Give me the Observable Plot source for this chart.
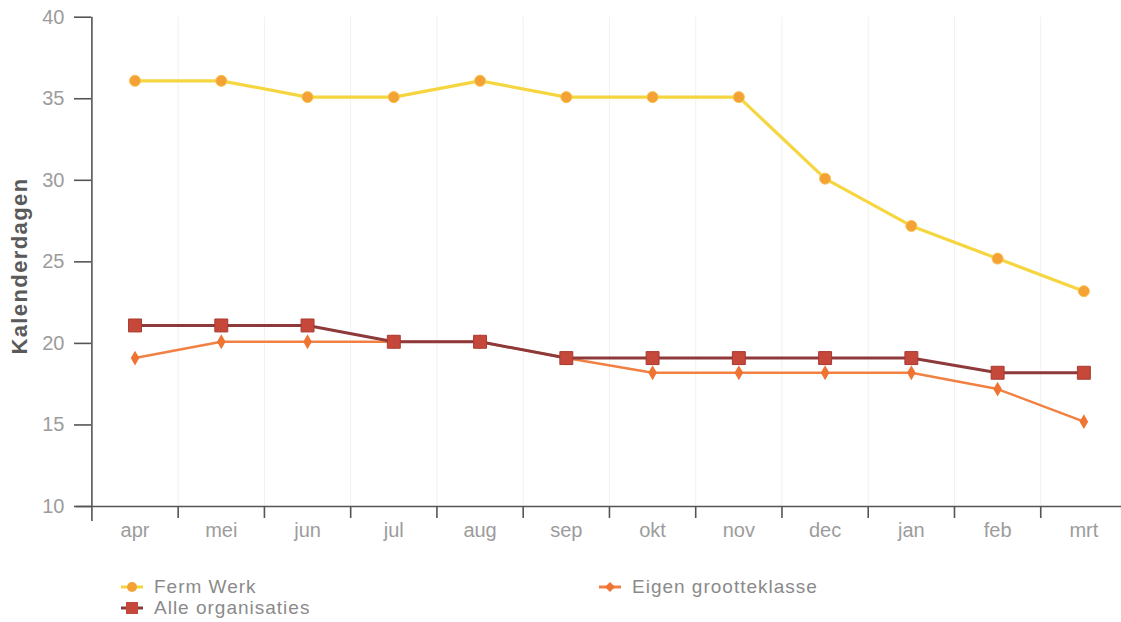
<!DOCTYPE html>
<html>
<head>
<meta charset="utf-8">
<script src="https://cdn.jsdelivr.net/npm/d3@7"></script>
<script src="https://cdn.jsdelivr.net/npm/@observablehq/plot@0.6"></script>
<style>
  body { margin: 0; background: #fff; font-family: "Liberation Sans", Arial, sans-serif; }
  #wrap { position: relative; width: 1121px; height: 622px; overflow: hidden; }
  #legend { position: absolute; left: 0; top: 0; width: 1121px; height: 622px; pointer-events: none; }
  .lg { position: absolute; display: flex; align-items: center; font-size: 19px; color: #8a8a8a; letter-spacing: 1px; }
  .lg svg { margin-right: 10px; }
  #ytitle { position: absolute; left: 19.5px; top: 266px; transform: translate(-50%, -50%) rotate(-90deg); white-space: nowrap;
            font-size: 22px; font-weight: bold; color: #5a5a5a; letter-spacing: 1.4px; }
</style>
</head>
<body>
<div id="wrap">
  <div id="chart"></div>
  <div id="ytitle"></div>
  <div id="legend"></div>
</div>
<script>
const months = ["apr", "mei", "jun", "jul", "aug", "sep", "okt", "nov", "dec", "jan", "feb", "mrt"];
const fermWerk = [36.1, 36.1, 35.1, 35.1, 36.1, 35.1, 35.1, 35.1, 30.1, 27.2, 25.2, 23.2];
const alleOrganisaties = [21.1, 21.1, 21.1, 20.1, 20.1, 19.1, 19.1, 19.1, 19.1, 19.1, 18.2, 18.2];
const eigenGrootteklasse = [19.1, 20.1, 20.1, 20.1, 20.1, 19.1, 18.2, 18.2, 18.2, 18.2, 17.2, 15.2];
const yTicks = [10, 15, 20, 25, 30, 35, 40];
const seriesNames = ["Ferm Werk", "Alle organisaties", "Eigen grootteklasse"];
const yTitle = "Kalenderdagen";

const idx = months.map((m, i) => i);
const bounds = months.slice(1).map((m, i) => i + 0.5);
const ferm = idx.map(i => ({i, v: fermWerk[i]}));
const alle = idx.map(i => ({i, v: alleOrganisaties[i]}));
const eigen = idx.map(i => ({i, v: eigenGrootteklasse[i]}));

const C = {
  fermLine: "#f6d640", fermDot: "#f4a236",
  alleLine: "#8e3a3a", alleDot: "#c5483a",
  eigenLine: "#f18042", eigenDot: "#ef7434"
};

const chart = Plot.plot({
  width: 1121,
  height: 570,
  marginLeft: 91,
  marginRight: 0,
  marginTop: 16,
  marginBottom: 64,
  style: { fontFamily: "Liberation Sans, Arial, sans-serif", background: "#fff" },
  x: { type: "linear", domain: [-0.5, 11.5], range: [91.4, 1126.5] },
  y: { type: "linear", domain: [10, 40], range: [506, 16.7] },
  marks: [
    Plot.ruleX(bounds, { stroke: "#f1f1f1", strokeWidth: 1, y1: 40, y2: 10 }),
    Plot.ruleY([10], { stroke: "#555", strokeWidth: 1.6, insetLeft: -15 }),
    Plot.ruleX([-0.5], { stroke: "#555", strokeWidth: 1.6, y1: 40, y2: 10, insetBottom: -15 }),
    Plot.axisY({ ticks: yTicks, tickSize: 17, tickPadding: 10, stroke: "#555", strokeWidth: 1.6, fill: "#9c9c9c", fontSize: 20, label: null, style: "letter-spacing:1px" }),
    Plot.axisX({ ticks: bounds, tickSize: 12, tickFormat: () => "", stroke: "#555", strokeWidth: 1.6, label: null }),
    Plot.axisX({ ticks: idx, tickSize: 0, tickPadding: 16, tickFormat: i => months[i], fill: "#9c9c9c", fontSize: 20, label: null, style: "letter-spacing:2px" }),
    Plot.line(ferm, { x: "i", y: "v", stroke: C.fermLine, strokeWidth: 3.2 }),
    Plot.dot(ferm, { x: "i", y: "v", r: 5.5, fill: C.fermDot, stroke: "#f7c04a", strokeWidth: 1 }),
    Plot.line(eigen, { x: "i", y: "v", stroke: C.eigenLine, strokeWidth: 2.5 }),
    Plot.dot(eigen, { x: "i", y: "v", symbol: "diamond", r: 4.5, fill: C.eigenDot }),
    Plot.line(alle, { x: "i", y: "v", stroke: C.alleLine, strokeWidth: 3 }),
    Plot.dot(alle, { x: "i", y: "v", symbol: "square", r: 7.3, fill: C.alleDot, stroke: "#a83a32", strokeWidth: 1 })
  ]
});
document.getElementById("chart").appendChild(chart);
document.getElementById("ytitle").textContent = yTitle;

const legendItems = [
  { name: seriesNames[0], line: C.fermLine, dot: C.fermDot, sym: "circle", left: 120, top: 576 },
  { name: seriesNames[2], line: C.eigenLine, dot: C.eigenDot, sym: "diamond", left: 598, top: 576 },
  { name: seriesNames[1], line: C.alleLine, dot: C.alleDot, sym: "square", left: 120, top: 597 }
];
const lg = document.getElementById("legend");
for (const it of legendItems) {
  const d = document.createElement("div");
  d.className = "lg";
  d.style.left = it.left + "px";
  d.style.top = it.top + "px";
  let shape;
  if (it.sym === "circle") shape = `<circle cx="12" cy="10" r="5" fill="${it.dot}"/>`;
  else if (it.sym === "diamond") shape = `<path d="M12 5 L17 10 L12 15 L7 10 Z" fill="${it.dot}"/>`;
  else shape = `<rect x="6" y="4" width="12" height="12" fill="${it.dot}"/>`;
  d.innerHTML = `<svg width="24" height="20"><line x1="1" y1="10" x2="23" y2="10" stroke="${it.line}" stroke-width="3"/>${shape}</svg><span>${it.name}</span>`;
  lg.appendChild(d);
}
</script>
</body>
</html>
